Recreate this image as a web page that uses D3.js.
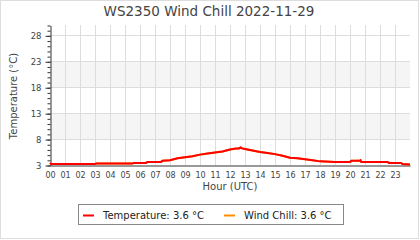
<!DOCTYPE html>
<html>
<head>
<meta charset="utf-8">
<script src="https://cdn.jsdelivr.net/npm/d3@7"></script>
<style>
  body { margin: 0; background: #fff; }
  svg { display: block; font-family: 'DejaVu Sans', sans-serif; }
</style>
</head>
<body>
<svg id="chart" width="420" height="240"></svg>
<script>
'use strict'

// Hours (UTC) of the readings
var hours = [0, 0.08, 3.0, 3.1, 5.5, 5.6, 6.4, 6.5, 7.4, 7.5, 8.0, 8.5, 9.0, 9.5, 10.0,
  10.5, 11.0, 11.5, 12.0, 12.4, 12.6, 12.7, 12.8, 13.0, 13.5, 14.0, 14.5, 15.0, 15.5,
  16.0, 16.5, 17.0, 17.5, 18.0, 19.0, 20.0, 20.1, 20.65, 20.7, 20.75, 22.5, 22.6,
  23.4, 23.5, 24.0]
// Temperature, °C
var temperature = [3.9, 3.7, 3.7, 3.8, 3.8, 3.9, 3.9, 4.1, 4.1, 4.3, 4.4, 4.8, 5.0, 5.2, 5.5,
  5.7, 5.9, 6.1, 6.5, 6.7, 6.7, 6.9, 6.7, 6.6, 6.3, 6.0, 5.8, 5.6, 5.3,
  4.9, 4.8, 4.6, 4.4, 4.2, 4.1, 4.1, 4.3, 4.3, 4.4, 4.1, 4.1, 3.9,
  3.9, 3.7, 3.6]
// Wind chill is the same as the temperature all day
var windChill = temperature

var hourLabels = ['00', '01', '02', '03', '04', '05', '06', '07', '08', '09', '10', '11',
  '12', '13', '14', '15', '16', '17', '18', '19', '20', '21', '22', '23']
var legendItems = ['Temperature: 3.6 °C', 'Wind Chill: 3.6 °C']
var yMin = 3.5
var yMax = 30.5

var svg = d3.select('#chart')
var plotLeft = 50
var plotRight = 410
var plotTop = 25
var plotBottom = 165

var x = d3.scaleLinear().domain([0, 24]).range([plotLeft, plotRight])
var y = d3.scaleLinear().domain([yMin, yMax]).range([plotBottom, plotTop])

var majorTicks = d3.range(yMin, yMax, 5)
var minorTicks = d3.range(yMin, yMax + 0.01, 1)

// frame
svg.append('rect')
  .attr('x', 0.5).attr('y', 0.5)
  .attr('width', 418).attr('height', 238)
  .attr('fill', '#fff')
  .attr('stroke', '#ddd')

// shaded bands between every other major tick (only full bands inside the plot)
svg.append('g')
  .selectAll('rect')
  .data(majorTicks.filter((d, i) => i % 2 === 1 && d + 5 <= yMax))
  .enter().append('rect')
    .attr('x', plotLeft)
    .attr('width', plotRight - plotLeft)
    .attr('y', (d) => Math.round(y(d + 5)))
    .attr('height', (d) => Math.round(y(d)) - Math.round(y(d + 5)))
    .attr('fill', '#f5f5f5')

// grid
svg.append('g')
  .selectAll('line')
  .data(d3.range(1, 24))
  .enter().append('line')
    .attr('x1', (d) => x(d) + 0.5).attr('x2', (d) => x(d) + 0.5)
    .attr('y1', plotTop).attr('y2', plotBottom)
    .attr('stroke', '#ddd')

svg.append('g')
  .selectAll('line')
  .data(majorTicks.slice(1))
  .enter().append('line')
    .attr('x1', plotLeft).attr('x2', plotRight)
    .attr('y1', (d) => Math.round(y(d)) + 0.5).attr('y2', (d) => Math.round(y(d)) + 0.5)
    .attr('stroke', '#ddd')

// y axis with major and minor ticks
var yAxis = svg.append('g')
  .attr('transform', 'translate(' + (plotLeft + 0.5) + ',0.5)')
yAxis.call(d3.axisLeft(y).tickValues(minorTicks).tickSize(3).tickFormat(''))
yAxis.select('.domain').remove()
yAxis.selectAll('.tick line').attr('stroke', '#333')
var yMajor = svg.append('g')
  .attr('transform', 'translate(' + (plotLeft + 0.5) + ',0.5)')
  .call(d3.axisLeft(y).tickValues(majorTicks).tickSize(5).tickSizeOuter(0).tickPadding(4)
    .tickFormat((d) => Math.floor(d)))
yMajor.select('.domain').attr('stroke', '#333')
yMajor.selectAll('.tick line').attr('stroke', '#333')
yMajor.selectAll('text')
  .attr('font-size', 8.5).attr('font-family', 'DejaVu Sans').attr('fill', '#444')

// x axis
var xAxis = svg.append('g')
  .attr('transform', 'translate(0,' + (plotBottom + 0.5) + ')')
  .call(d3.axisBottom(x).tickValues(d3.range(0, 24)).tickSize(0).tickPadding(7)
    .tickFormat((d) => hourLabels[d]))
xAxis.select('.domain').attr('stroke', '#333')
xAxis.selectAll('text')
  .attr('font-size', 8).attr('font-family', 'DejaVu Sans').attr('fill', '#444')

// series
var line = d3.line()
  .x((d, i) => x(hours[i]))
  .y((d) => y(d))

svg.append('path')
  .datum(windChill)
  .attr('d', line)
  .attr('fill', 'none')
  .attr('stroke', '#ff8c00')
  .attr('stroke-width', 2)

svg.append('path')
  .datum(temperature)
  .attr('d', line)
  .attr('fill', 'none')
  .attr('stroke', '#ff0000')
  .attr('stroke-width', 2)

// titles
svg.append('text')
  .attr('x', 209).attr('y', 16)
  .attr('text-anchor', 'middle')
  .attr('font-size', 13.5)
  .attr('fill', '#444')
  .text('WS2350 Wind Chill 2022-11-29')

svg.append('text')
  .attr('transform', 'translate(17,96) rotate(-90)')
  .attr('text-anchor', 'middle')
  .attr('font-size', 10)
  .attr('fill', '#444')
  .text('Temperature (°C)')

svg.append('text')
  .attr('x', (plotLeft + plotRight) / 2).attr('y', 190)
  .attr('text-anchor', 'middle')
  .attr('font-size', 10)
  .attr('fill', '#444')
  .text('Hour (UTC)')

// legend
var legend = svg.append('g')
legend.append('rect')
  .attr('x', 78.5).attr('y', 204.5)
  .attr('width', 265).attr('height', 20)
  .attr('fill', '#fff')
  .attr('stroke', '#888')

var swatchX = [83, 224]
var colors = ['#ff0000', '#ff8c00']
legendItems.forEach((label, i) => {
  legend.append('line')
    .attr('x1', swatchX[i]).attr('x2', swatchX[i] + 11)
    .attr('y1', 215.5).attr('y2', 215.5)
    .attr('stroke', colors[i])
    .attr('stroke-width', 2)
  legend.append('text')
    .attr('x', swatchX[i] + 20).attr('y', 218.5)
    .attr('font-size', 10)
    .attr('fill', '#222')
    .text(label)
})
</script>
</body>
</html>
